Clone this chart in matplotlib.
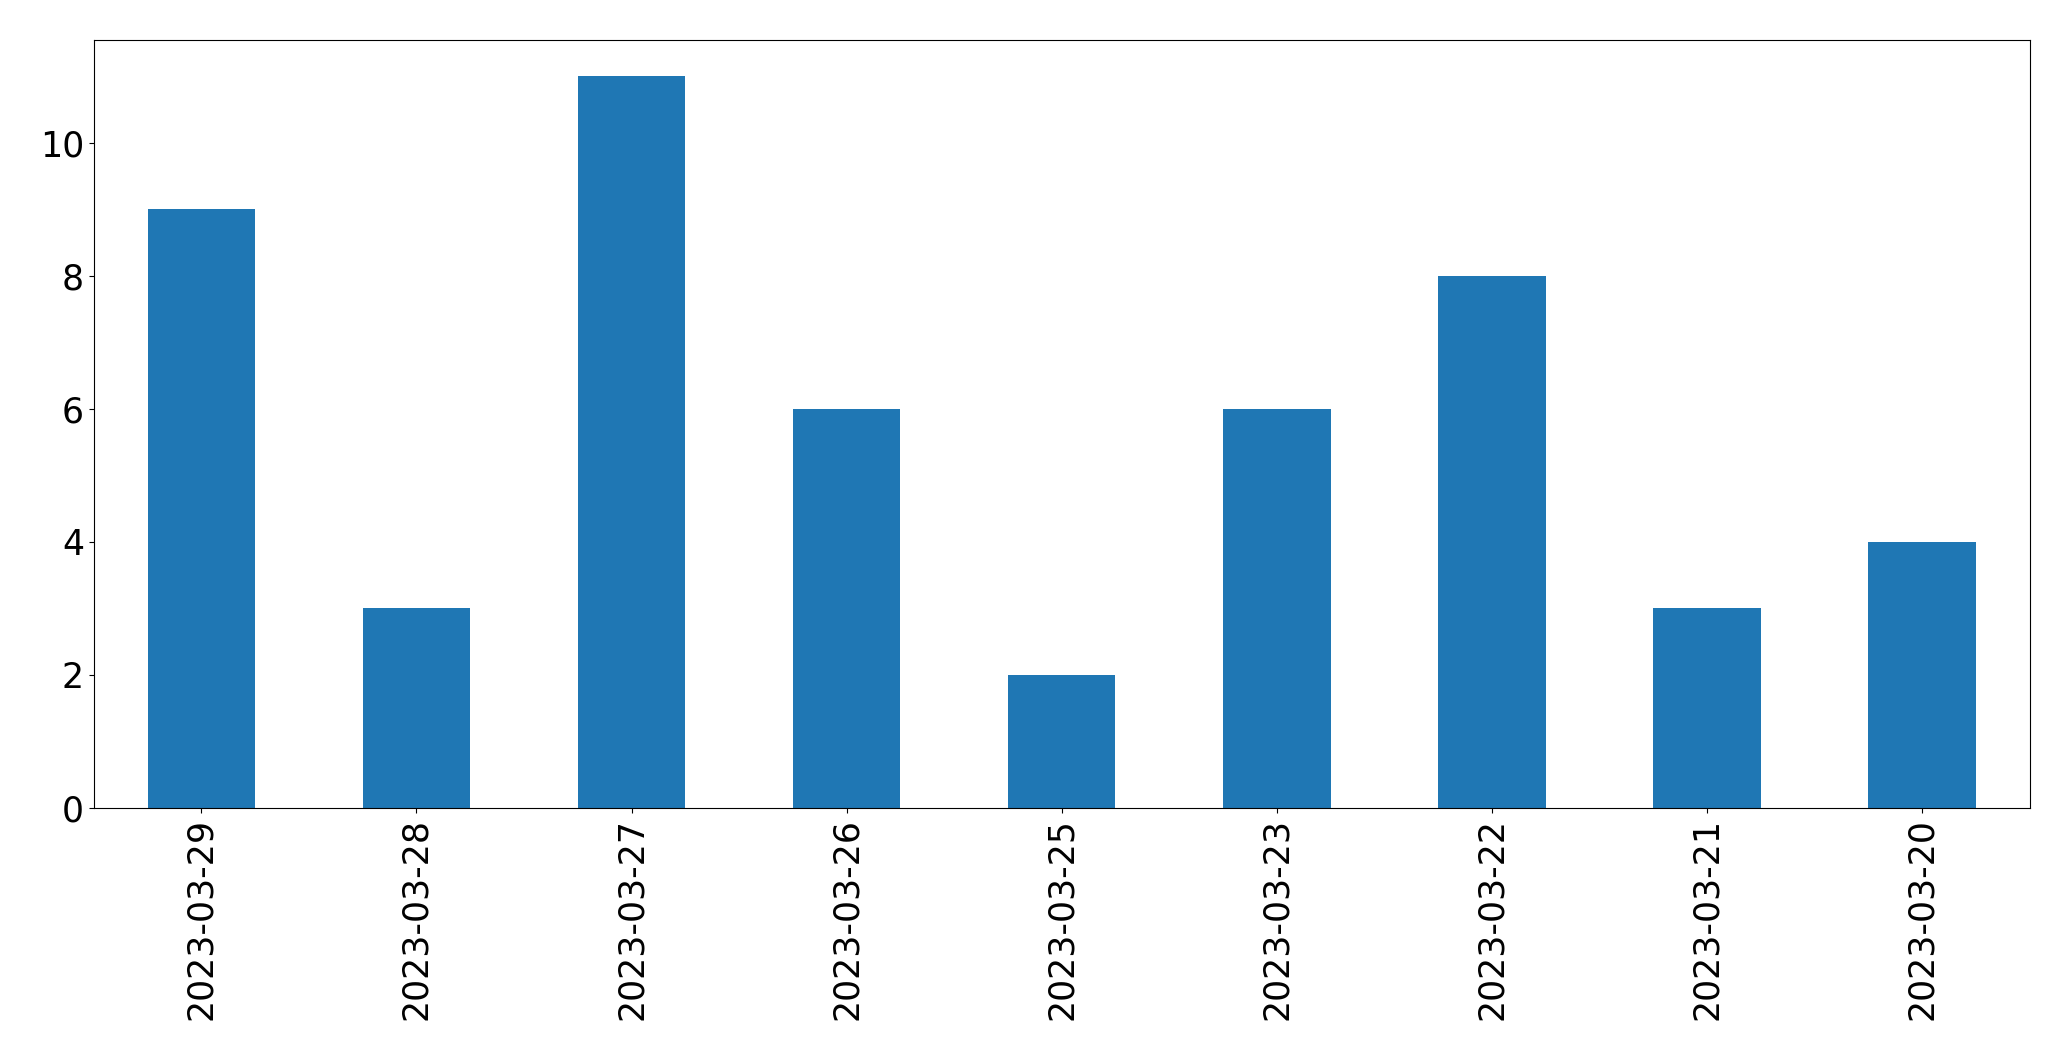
import matplotlib
matplotlib.use("Agg")
import matplotlib.pyplot as plt

dates = ["2023-03-29", "2023-03-28", "2023-03-27", "2023-03-26", "2023-03-25",
         "2023-03-23", "2023-03-22", "2023-03-21", "2023-03-20"]
counts = [9, 3, 11, 6, 2, 6, 8, 3, 4]

fig = plt.figure(figsize=(20.71, 10.61), dpi=100)
ax = fig.add_axes([0.0453, 0.2385, 0.9347, 0.7242])
x = list(range(len(dates)))
ax.bar(x, counts, width=0.5, color="#1f77b4")
ax.set_xlim(-0.5, len(dates) - 0.5)
ax.set_xticks(x)
ax.set_xticklabels(dates, rotation=90)
ax.tick_params(labelsize=25)
fig.savefig("out.png", dpi=100)
